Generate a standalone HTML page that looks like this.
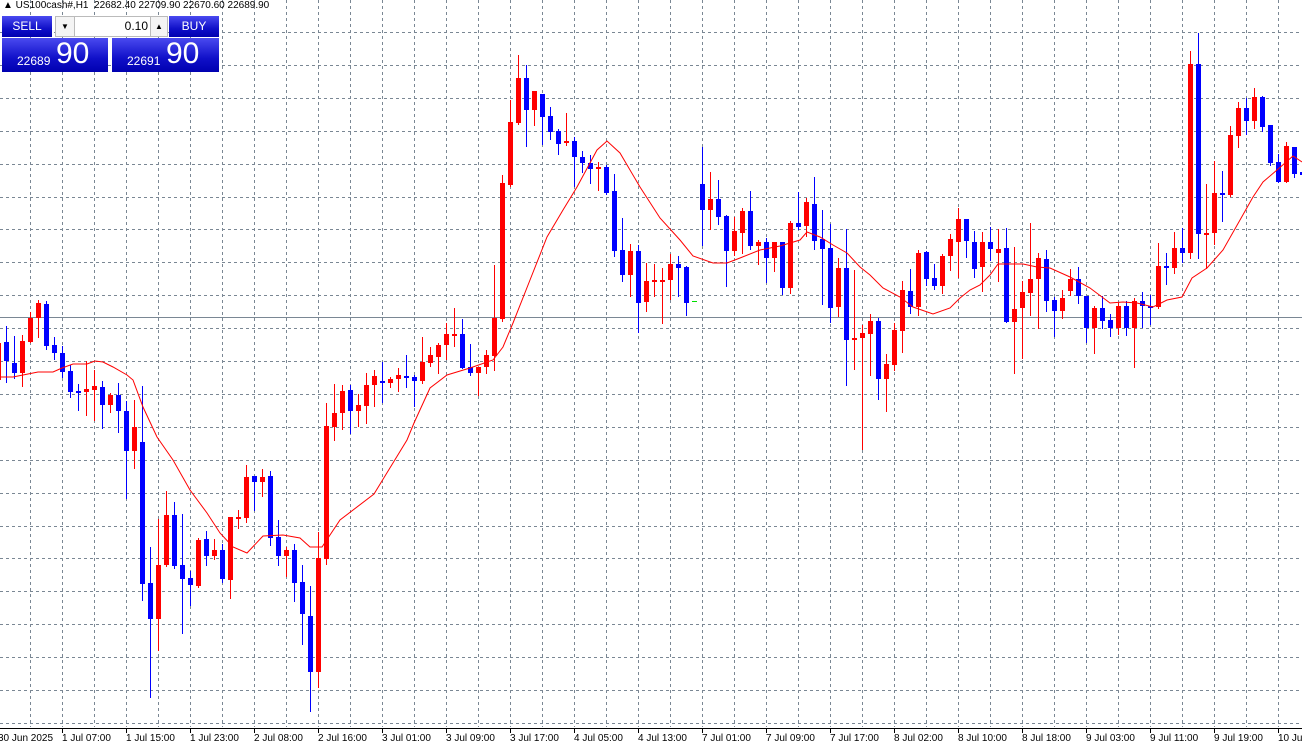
<!DOCTYPE html>
<html><head><meta charset="utf-8"><style>
html,body{margin:0;padding:0;background:#fff;}
body{width:1302px;height:744px;overflow:hidden;position:relative;font-family:"Liberation Sans",sans-serif;}
svg{position:absolute;left:0;top:0;}
.btn{position:absolute;background:linear-gradient(#4a4af0,#1010c8 60%,#0000b0);color:#fff;}
</style></head><body>
<svg id="c" width="1302" height="744" xmlns="http://www.w3.org/2000/svg"></svg>
<div style="position:absolute;left:3px;top:0px;font-size:10px;color:#000;white-space:pre;">▲ US100cash#,H1  22682.40 22709.90 22670.60 22689.90</div>
<div class="btn" style="left:2px;top:16px;width:50px;height:21px;font-size:12px;text-align:center;line-height:21px;">SELL</div>
<div style="position:absolute;left:55px;top:16px;width:18px;height:19px;border:1px solid #bbb;background:#f4f4f4;font-size:8px;text-align:center;line-height:19px;">▼</div>
<div style="position:absolute;left:74px;top:16px;width:73px;height:19px;border:1px solid #bbb;background:#fff;font-size:12px;text-align:right;line-height:19px;padding-right:3px;box-sizing:content-box;">0.10</div>
<div style="position:absolute;left:150px;top:16px;width:16px;height:19px;border:1px solid #bbb;background:#f4f4f4;font-size:8px;text-align:center;line-height:19px;">▲</div>
<div class="btn" style="left:169px;top:16px;width:50px;height:21px;font-size:12px;text-align:center;line-height:21px;">BUY</div>
<div class="btn" style="left:2px;top:38px;width:106px;height:34px;"><span style="position:absolute;left:15px;top:16px;font-size:12px;">22689</span><span style="position:absolute;left:54px;top:-1px;font-size:30px;">90</span></div>
<div class="btn" style="left:112px;top:38px;width:107px;height:34px;"><span style="position:absolute;left:15px;top:16px;font-size:12px;">22691</span><span style="position:absolute;left:54px;top:-1px;font-size:30px;">90</span></div>
<script>
var s=document.getElementById('c'),h='';
var g='#7a8794';
for(var x=30;x<1302;x+=32){h+='<line x1="'+(x+.5)+'" y1="0" x2="'+(x+.5)+'" y2="727" stroke="'+g+'" stroke-dasharray="3,3"/>';}
for(var k=0;k<22;k++){var y=Math.round(32+32.9*k)+.5;h+='<line x1="0" y1="'+y+'" x2="1302" y2="'+y+'" stroke="'+g+'" stroke-dasharray="3,3"/>';}
h+='<line x1="0" y1="317.5" x2="1302" y2="317.5" stroke="#7a8794"/>';
h+='<line x1="0" y1="728.5" x2="1302" y2="728.5" stroke="#000"/>';
var d=[
[-1,'R',343,380,343,392],[0,'B',342,361,326,382],[1,'B',363,373,336,378],[2,'R',341,373,335,386],[3,'R',318,342,312,342],[4,'R',303,318,300,337],[5,'B',304,346,301,349],[6,'B',345,353,337,359],[7,'B',353,372,346,377],[8,'B',371,392,365,397],[9,'B',391,392,384,410],[10,'R',389,392,361,415],[11,'R',386,390,370,420],[12,'B',387,405,381,428],[13,'R',395,405,393,412],[14,'B',395,411,383,432],[15,'B',411,451,401,498],[16,'R',427,451,400,468],[17,'B',442,584,386,600],[18,'B',583,619,547,697],[19,'R',565,619,519,650],[20,'R',515,565,491,566],[21,'B',515,566,502,568],[22,'B',565,579,514,633],[23,'B',578,585,571,605],[24,'R',540,586,538,587],[25,'B',539,556,531,565],[26,'R',550,556,539,559],[27,'B',550,579,544,582],[28,'R',517,580,517,598],[29,'R',517,518,510,528],[30,'R',477,518,465,522],[31,'B',476,482,476,510],[32,'R',477,482,469,496],[33,'B',476,538,471,545],[34,'B',537,556,520,565],[35,'R',550,556,547,576],[36,'B',550,583,544,601],[37,'B',582,614,565,644],[38,'B',616,672,586,711],[39,'R',558,672,532,687],[40,'R',426,559,403,564],
[41,'R',413,427,384,440],[42,'R',391,413,385,429],[43,'B',390,411,385,433],[44,'R',405,411,394,426],[45,'R',385,406,373,423],[46,'R',376,385,370,406],[47,'B',381,383,362,402],[48,'R',379,383,377,387],[49,'R',375,379,368,391],[50,'B',376,378,355,387],[51,'B',377,381,375,406],[52,'R',362,381,337,383],[53,'R',355,363,347,366],[54,'R',345,357,343,373],[55,'R',334,345,323,359],[56,'R',334,336,308,346],[57,'B',334,368,319,368],[58,'B',367,373,344,375],[59,'R',367,373,367,395],[60,'R',355,367,350,373],[61,'R',318,356,265,370],[62,'R',183,319,175,321],[63,'R',122,185,100,186],[64,'R',78,123,55,124],[65,'B',78,110,65,146],[66,'R',91,110,91,125],[67,'B',94,117,94,144],[68,'B',116,132,107,139],[69,'B',131,144,129,154],[70,'R',141,143,113,145],[71,'B',141,157,137,186],[72,'B',157,163,151,172],[73,'B',163,169,155,183],[74,'R',167,168,162,190],[75,'B',167,193,165,194],
[76,'B',191,251,174,256],[77,'B',250,275,218,281],[78,'R',251,275,244,296],[79,'B',251,303,245,332],[80,'R',281,302,263,311],[81,'R',280,282,264,296],[82,'R',280,281,268,323],[83,'R',264,280,254,299],[84,'B',264,268,256,296],[85,'B',267,303,266,315],
[87,'B',184,210,147,245],[88,'R',199,210,172,229],[89,'B',199,217,180,224],[90,'B',216,251,215,286],[91,'R',231,251,217,255],[92,'R',211,233,208,253],[93,'B',211,246,191,249],[94,'R',242,246,240,264],[95,'B',242,258,238,282],[96,'R',242,258,242,271],[97,'B',242,288,242,294],[98,'R',223,288,221,293],[99,'B',223,227,192,229],[100,'R',202,226,198,236],[101,'B',204,241,177,249],[102,'B',239,249,210,304],[103,'B',248,308,224,322],[104,'R',268,307,258,316],[105,'B',268,340,229,385],[106,'R',338,340,270,369],[107,'R',333,338,325,449],[108,'R',321,334,314,375],[109,'B',321,379,318,399],
[110,'R',364,379,354,411],[111,'R',330,365,323,370],[112,'R',290,331,281,352],[113,'B',291,307,269,313],[114,'R',253,307,250,315],[115,'B',252,279,251,285],[116,'B',278,286,264,289],[117,'R',256,286,254,293],[118,'R',239,256,234,270],[119,'R',219,242,208,277],[120,'B',219,241,219,257],[121,'B',242,269,231,277],[122,'R',242,267,232,291],[123,'B',242,249,227,260],[124,'R',249,253,229,281],[125,'B',248,322,228,322],[126,'R',309,322,247,373],[127,'R',292,308,281,358],[128,'R',279,293,223,315],[129,'R',258,279,253,328],[130,'B',259,301,250,311],[131,'B',300,311,297,336],[132,'R',298,311,290,318],[133,'R',279,291,269,295],[134,'B',279,296,267,303],[135,'B',296,328,296,342],[136,'R',308,328,306,353],[137,'B',308,321,296,328],[138,'B',320,328,314,336],[139,'R',306,328,303,334],[140,'B',306,328,301,335],[141,'R',301,328,298,367],[142,'B',301,306,292,327],
[143,'B',306,308,295,324],[144,'R',266,307,243,308],[145,'B',266,268,253,284],[146,'R',248,268,232,273],[147,'B',248,253,228,262],[148,'R',64,253,51,258],[149,'B',64,234,33,258],[150,'R',233,234,184,268],[151,'R',193,233,161,244],[152,'B',193,194,171,221],[153,'R',135,195,126,196],[154,'R',108,136,102,147],[155,'B',108,121,98,134],[156,'R',97,121,88,128],[157,'B',97,127,96,131],[158,'B',125,163,125,165],[159,'B',162,182,154,182],[160,'R',146,182,142,182],[161,'B',147,174,147,177],[162,'B',172,175,172,175]
];
for(var i=0;i<d.length;i++){var c=d[i],cx=6.5+8*c[0],col=c[1]=='R'?'#ff0000':'#0000ff';
h+='<line x1="'+cx+'" y1="'+c[4]+'" x2="'+cx+'" y2="'+(c[5]+1)+'" stroke="'+col+'"/>';
var bh=Math.max(c[3]-c[2],2);h+='<rect x="'+(cx-2.5)+'" y="'+c[2]+'" width="5" height="'+bh+'" fill="'+col+'"/>';}
h+='<line x1="692" y1="301.5" x2="697" y2="301.5" stroke="#00dd00"/>';
var m=[[0,377],[13,377],[38,372],[53,372],[62,368],[73,364],[87,364],[95,361],[103,362],[113,367],[127,375],[133,380],[143,407],[157,437],[173,460],[190,490],[207,513],[220,533],[233,547],[247,553],[263,536],[283,535],[300,538],[310,547],[322,547],[340,520],[374,494],[407,440],[414,423],[430,388],[447,375],[470,368],[493,360],[503,347],[513,323],[530,280],[547,237],[563,210],[577,187],[597,150],[607,141],[620,153],[640,187],[660,218],[680,240],[693,256],[713,263],[727,263],[740,258],[760,250],[780,246],[800,240],[807,232],[820,237],[833,245],[847,253],[860,267],[870,275],[883,288],[900,297],[913,307],[933,314],[950,308],[960,298],[970,290],[980,285],[990,275],[998,264],[1010,264],[1023,264],[1037,267],[1050,268],[1070,277],[1090,288],[1110,303],[1123,302],[1137,303],[1153,307],[1167,300],[1182,297],[1192,278],[1207,268],[1223,250],[1240,220],[1253,197],[1263,182],[1277,170],[1293,156],[1302,162]];
h+='<polyline fill="none" stroke="#ff0000" stroke-width="1" points="'+m.map(function(p){return p[0]+','+p[1]}).join(' ')+'"/>';
var L=[[-2,'30 Jun 2025'],[62,'1 Jul 07:00'],[126,'1 Jul 15:00'],[190,'1 Jul 23:00'],[254,'2 Jul 08:00'],[318,'2 Jul 16:00'],[382,'3 Jul 01:00'],[446,'3 Jul 09:00'],[510,'3 Jul 17:00'],[574,'4 Jul 05:00'],[638,'4 Jul 13:00'],[702,'7 Jul 01:00'],[766,'7 Jul 09:00'],[830,'7 Jul 17:00'],[894,'8 Jul 02:00'],[958,'8 Jul 10:00'],[1022,'8 Jul 18:00'],[1086,'9 Jul 03:00'],[1150,'9 Jul 11:00'],[1214,'9 Jul 19:00'],[1278,'10 Jul']];
for(var j=0;j<L.length;j++){var lx=L[j][0];if(lx>0)h+='<line x1="'+(lx+.5)+'" y1="728" x2="'+(lx+.5)+'" y2="733" stroke="#000"/>';
h+='<text x="'+lx+'" y="741" font-family="Liberation Sans, sans-serif" font-size="10" fill="#000">'+L[j][1]+'</text>';}
s.innerHTML=h;
</script>
</body></html>
